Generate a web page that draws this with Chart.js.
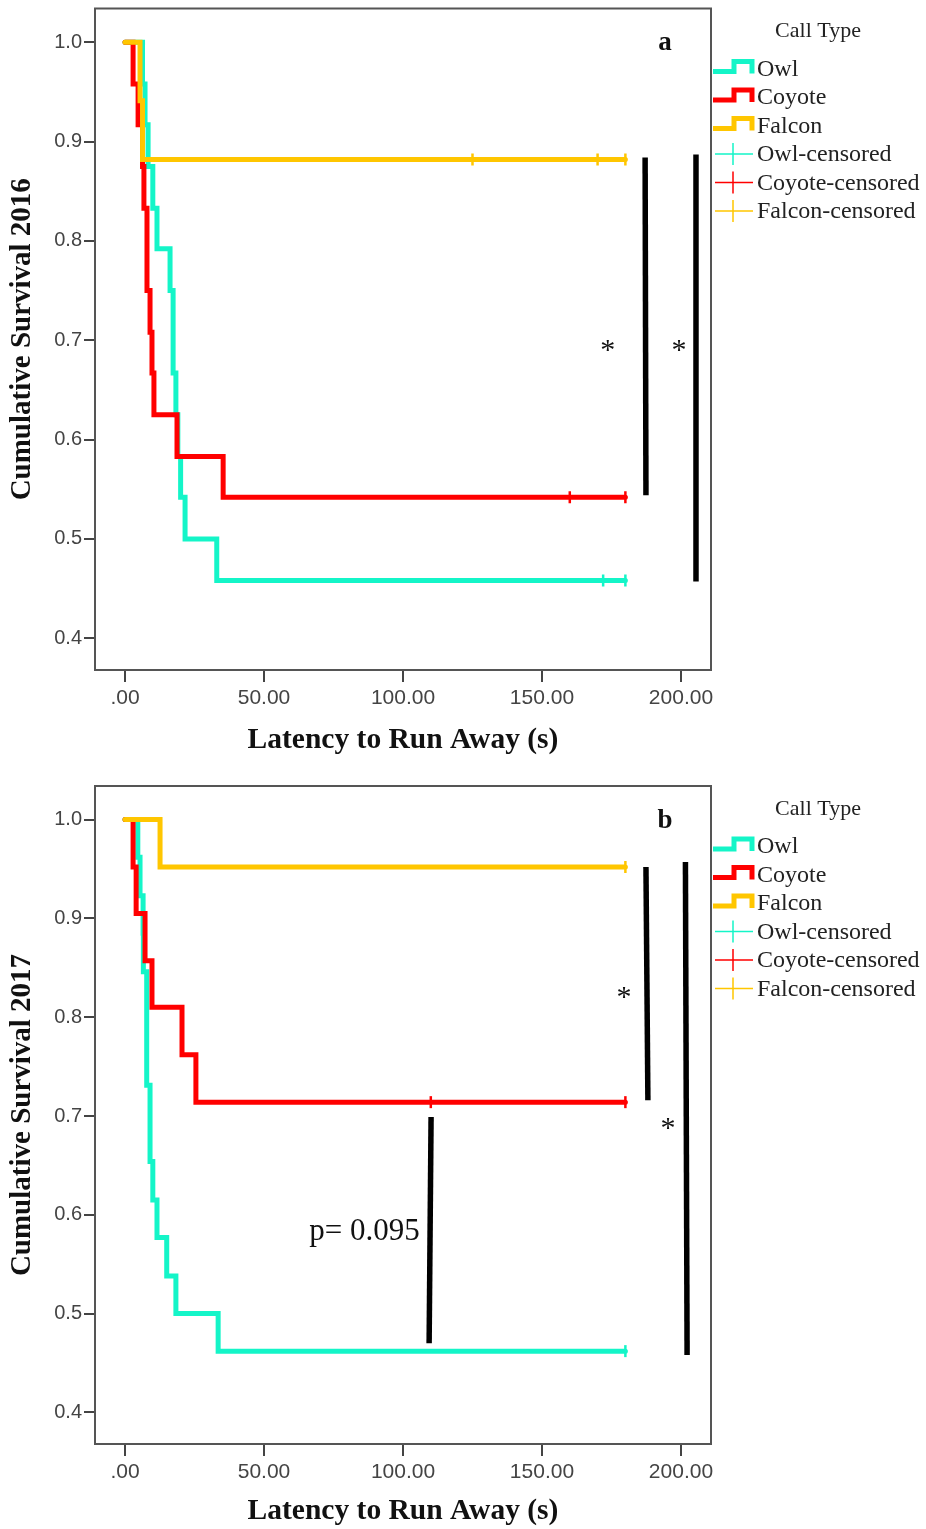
<!DOCTYPE html>
<html>
<head>
<meta charset="utf-8">
<style>
  body { margin: 0; background: #fff; }
  canvas { position: absolute; left: 0; }
</style>
</head>
<body>
<canvas id="chart2016" width="926" height="765" style="top:0px"></canvas>
<canvas id="chart2017" width="926" height="759" style="top:770px"></canvas>
<script src="https://cdn.jsdelivr.net/npm/chart.js"></script>
<script>

const xTicks = [0, 50, 100, 150, 200];
const xTickLabels = ['.00', '50.00', '100.00', '150.00', '200.00'];
const yTicks = [0.4, 0.5, 0.6, 0.7, 0.8, 0.9, 1.0];
const yTickLabels = ['0.4', '0.5', '0.6', '0.7', '0.8', '0.9', '1.0'];
const groups = ['Owl', 'Coyote', 'Falcon'];
const colors = ['#14F5C8', '#FF0000', '#FFC600'];

// 2016 (panel a) - time (s) where survival drops, and survival after the drop
const owlTime2016 = [0, 6.3, 7.2, 8.3, 10, 11.5, 16.2, 17.3, 17.3, 18.3, 19, 20, 21.6, 33, 180];
const owlSurv2016 = [1, .958, .917, .875, .833, .792, .75, .708, .667, .625, .583, .542, .5, .458, .458];
const owlCens2016 = [172, 180];
const coyoteTime2016 = [0, 2.9, 4.7, 6.3, 6.8, 7.9, 7.9, 9, 9.7, 10.4, 18.7, 35.3, 180];
const coyoteSurv2016 = [1, .958, .917, .875, .833, .792, .75, .708, .667, .625, .583, .542, .542];
const coyoteCens2016 = [160, 180];
const falconTime2016 = [0, 5.4, 6.3, 180];
const falconSurv2016 = [1, .941, .882, .882];
const falconCens2016 = [125, 170, 180];

// 2017 (panel b)
const owlTime2017 = [0, 4.6, 5.4, 6.5, 6.6, 7.8, 7.8, 7.8, 9, 9, 10, 11.5, 15, 18.3, 33.5, 180];
const owlSurv2017 = [1, .962, .923, .885, .846, .808, .769, .731, .692, .654, .615, .577, .538, .5, .462, .462];
const owlCens2017 = [180];
const coyoteTime2017 = [0, 2.9, 4, 7.2, 9.7, 20.5, 25.5, 180];
const coyoteSurv2017 = [1, .952, .905, .857, .81, .762, .714, .714];
const coyoteCens2017 = [110, 180];
const falconTime2017 = [0, 12.6, 180];
const falconSurv2017 = [1, .952, .952];
const falconCens2017 = [180];

// significance brackets, in data units: [x1, y1, x2, y2]
const bars2016 = [[187.1, 0.884, 187.4, 0.544], [205.4, 0.887, 205.4, 0.457]];
const stars2016 = [[173.7, 0.696], [199.3, 0.696]];
const bars2017 = [[187.4, 0.952, 188.1, 0.716], [201.6, 0.957, 202.2, 0.458], [110.1, 0.699, 109.4, 0.470]];
const stars2017 = [[179.5, 0.827], [195.3, 0.694]];
const notes2017 = [[106, 0.583, 'p= 0.095']];

function survAt(times, surv, t) {
  let s = surv[0];
  for (let i = 0; i < times.length; i++) if (times[i] <= t) s = surv[i];
  return s;
}

const panelPlugin = {
  id: 'panel',
  afterDraw(chart, args, o) {
    const ctx = chart.ctx;
    const a = chart.chartArea;
    const sx = chart.scales.x, sy = chart.scales.y;
    ctx.save();
    // frame
    ctx.strokeStyle = '#555';
    ctx.lineWidth = 2;
    ctx.strokeRect(a.left, a.top, a.right - a.left, a.bottom - a.top);

    // brackets and labels
    ctx.strokeStyle = '#000';
    ctx.lineWidth = 5.5;
    o.bars.forEach(b => {
      ctx.beginPath();
      ctx.moveTo(sx.getPixelForValue(b[0]), sy.getPixelForValue(b[1]));
      ctx.lineTo(sx.getPixelForValue(b[2]), sy.getPixelForValue(b[3]));
      ctx.stroke();
    });
    ctx.fillStyle = '#111';
    ctx.textAlign = 'center';
    ctx.textBaseline = 'alphabetic';
    ctx.font = '30px "Liberation Serif"';
    o.stars.forEach(s => ctx.fillText('*', sx.getPixelForValue(s[0]), sy.getPixelForValue(s[1]) + 15));
    ctx.textBaseline = 'middle';
    ctx.textAlign = 'right';
    ctx.font = '31px "Liberation Serif"';
    (o.notes || []).forEach(n => ctx.fillText(n[2], sx.getPixelForValue(n[0]), sy.getPixelForValue(n[1])));

    // panel letter
    ctx.textAlign = 'center';
    ctx.font = 'bold 27px "Liberation Serif"';
    ctx.fillText(o.letter, a.right - 46, a.top + 35);

    // legend
    const r = a.right;
    ctx.font = '22px "Liberation Serif"';
    ctx.fillStyle = '#222';
    ctx.fillText('Call Type', r + 107, a.top + 23);
    ctx.textAlign = 'left';
    ctx.font = '24px "Liberation Serif"';
    for (let i = 0; i < 6; i++) {
      const y = a.top + 60 + i * 28.5;
      const c = colors[i % 3];
      ctx.strokeStyle = c;
      ctx.beginPath();
      if (i < 3) {
        ctx.lineWidth = 5;
        ctx.lineJoin = 'miter';
        ctx.moveTo(r + 2, y + 3);
        ctx.lineTo(r + 23, y + 3);
        ctx.lineTo(r + 23, y - 7);
        ctx.lineTo(r + 41, y - 7);
        ctx.lineTo(r + 41, y + 5);
      } else {
        ctx.lineWidth = 1.5;
        ctx.moveTo(r + 4, y);
        ctx.lineTo(r + 42, y);
        ctx.moveTo(r + 22, y - 11);
        ctx.lineTo(r + 22, y + 11);
      }
      ctx.stroke();
      ctx.fillStyle = '#222';
      ctx.fillText(i < 3 ? groups[i] : groups[i - 3] + '-censored', r + 46, y + 1);
    }
    ctx.restore();
  }
};

function makePanel(id, p) {
  const datasets = [];
  // falcon first so it is drawn on top, then coyote, then owl
  [2, 1, 0].forEach(k => {
    const s = p.series[k];
    datasets.push({
      label: groups[k],
      data: s.time.map((t, i) => ({ x: t, y: s.surv[i] })),
      borderColor: colors[k],
      borderWidth: 5,
      stepped: true,
      pointRadius: 0,
      borderJoinStyle: 'miter',
      borderCapStyle: 'round',
      fill: false
    });
  });
  [2, 1, 0].forEach(k => {
    const s = p.series[k];
    datasets.unshift({
      label: groups[k] + '-censored',
      data: s.cens.map(t => ({ x: t, y: survAt(s.time, s.surv, t) })),
      showLine: false,
      pointStyle: 'line',
      pointRotation: 90,
      pointRadius: 6,
      pointBorderWidth: 2.5,
      pointBorderColor: colors[k],
      borderColor: colors[k]
    });
  });

  return new Chart(id, {
    type: 'line',
    data: { datasets },
    plugins: [panelPlugin],
    options: {
      responsive: false,
      animation: false,
      events: [],
      layout: { padding: { top: p.padTop, right: 215, left: 0, bottom: 0 } },
      plugins: {
        legend: { display: false },
        tooltip: { enabled: false },
        panel: { letter: p.letter, bars: p.bars, stars: p.stars, notes: p.notes }
      },
      scales: {
        x: {
          type: 'linear',
          min: -10.8,
          max: 210.8,
          afterBuildTicks: s => { s.ticks = xTicks.map(v => ({ value: v })); },
          afterFit: s => { s.height = p.xAxisH; s.paddingLeft = 0; s.paddingRight = 0; },
          ticks: {
            callback: (v, i) => xTickLabels[i],
            font: { family: 'Liberation Sans', size: 21 },
            color: '#444',
            padding: 4,
            maxRotation: 0,
            autoSkip: false
          },
          grid: { drawOnChartArea: false, tickLength: 12, color: '#444', lineWidth: 2 },
          border: { display: false },
          title: {
            display: true,
            text: 'Latency to Run Away (s)',
            font: { family: 'Liberation Serif', size: 29.5, weight: 'bold' },
            color: '#111',
            padding: { top: 0, bottom: p.xTitlePad }
          }
        },
        y: {
          min: 0.368,
          max: 1.034,
          afterBuildTicks: s => { s.ticks = yTicks.map(v => ({ value: v })); },
          afterFit: s => { s.width = 95; s.paddingTop = 0; s.paddingBottom = 0; },
          ticks: {
            callback: (v, i) => yTickLabels[i],
            font: { family: 'Liberation Sans', size: 20 },
            color: '#444',
            padding: 2
          },
          grid: { drawOnChartArea: false, tickLength: 11, color: '#444', lineWidth: 2 },
          border: { display: false },
          title: {
            display: true,
            text: p.yTitle,
            font: { family: 'Liberation Serif', size: 29, weight: 'bold' },
            color: '#111',
            padding: { top: 5, bottom: 0 }
          }
        }
      }
    }
  });
}

makePanel('chart2016', {
  letter: 'a',
  yTitle: 'Cumulative Survival 2016',
  padTop: 8, xAxisH: 95, xTitlePad: 7,
  series: [
    { time: owlTime2016, surv: owlSurv2016, cens: owlCens2016 },
    { time: coyoteTime2016, surv: coyoteSurv2016, cens: coyoteCens2016 },
    { time: falconTime2016, surv: falconSurv2016, cens: falconCens2016 }
  ],
  bars: bars2016, stars: stars2016
});

makePanel('chart2017', {
  letter: 'b',
  yTitle: 'Cumulative Survival 2017',
  padTop: 16, xAxisH: 85, xTitlePad: 0,
  series: [
    { time: owlTime2017, surv: owlSurv2017, cens: owlCens2017 },
    { time: coyoteTime2017, surv: coyoteSurv2017, cens: coyoteCens2017 },
    { time: falconTime2017, surv: falconSurv2017, cens: falconCens2017 }
  ],
  bars: bars2017, stars: stars2017, notes: notes2017
});
</script>
</body>
</html>
